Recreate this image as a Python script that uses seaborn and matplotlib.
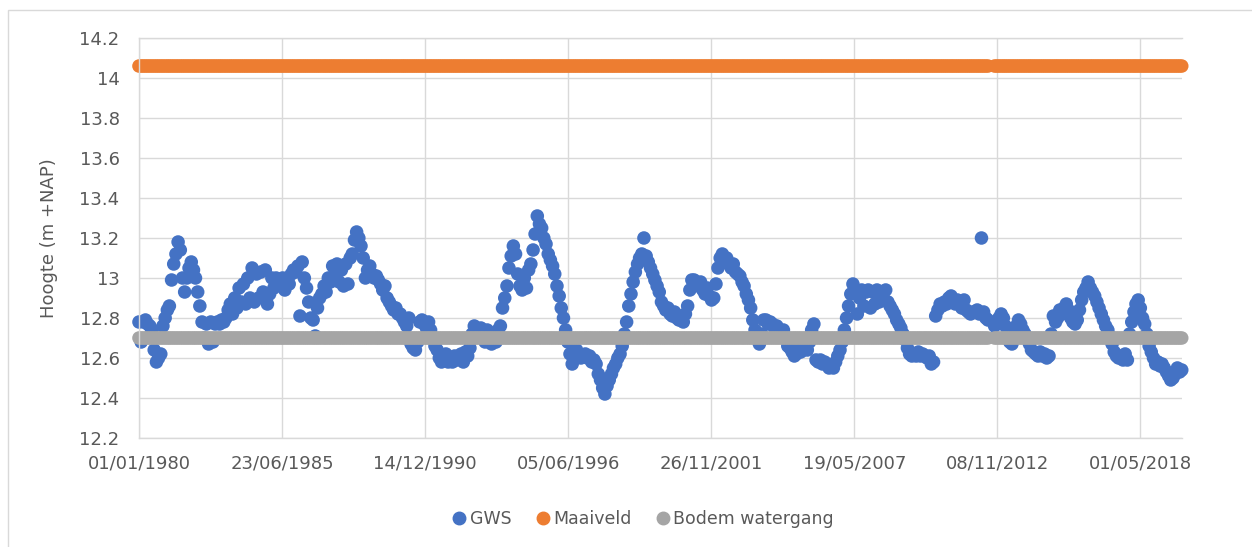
import numpy as np
import pandas as pd
import matplotlib
matplotlib.use("Agg")
import matplotlib.pyplot as plt
from matplotlib.lines import Line2D
from matplotlib.patches import Rectangle
import seaborn as sns

# monthly groundwater level (GWS), Jan..Dec per row
gws_1980s = [
    12.78, 12.68, 12.78, 12.79, 12.77, 12.76, 12.74, 12.64, 12.58, 12.60, 12.62, 12.76,
    12.80, 12.84, 12.86, 12.99, 13.07, 13.12, 13.18, 13.14, 13.00, 12.93, 13.00, 13.05,
    13.08, 13.04, 13.00, 12.93, 12.86, 12.78, 12.70, 12.77, 12.67, 12.78, 12.68, 12.77,
    12.78, 12.77, 12.79, 12.78, 12.80, 12.84, 12.87, 12.82, 12.90, 12.85, 12.95, 12.88,
    12.97, 12.87, 13.00, 12.90, 13.05, 12.88, 13.02, 12.90, 13.03, 12.93, 13.04, 12.87,
    12.92, 13.00, 12.95, 13.00, 12.97, 12.99, 13.00, 12.94, 13.00, 12.97, 13.02, 13.04,
    13.03, 13.06, 12.81, 13.08, 13.00, 12.95, 12.88, 12.80, 12.79, 12.71, 12.85, 12.90,
    12.92, 12.96, 12.93, 13.00, 12.98, 13.06, 13.02, 13.07, 12.98, 13.04, 12.96, 13.07,
    12.97, 13.10, 13.12, 13.19, 13.23, 13.20, 13.16, 13.10, 13.00, 13.04, 13.06, 13.02,
    13.00, 13.01, 12.99, 12.97, 12.94, 12.96, 12.90, 12.88, 12.86, 12.84, 12.85, 12.82,
]
gws_1990s = [
    12.82, 12.80, 12.78, 12.76, 12.80, 12.67, 12.65, 12.64, 12.68, 12.78, 12.79, 12.77,
    12.75, 12.78, 12.74, 12.70, 12.66, 12.64, 12.60, 12.58, 12.59, 12.62, 12.58, 12.60,
    12.58, 12.61, 12.59, 12.60, 12.62, 12.58, 12.63, 12.61, 12.65, 12.72, 12.76, 12.74,
    12.73, 12.75, 12.72, 12.68, 12.74, 12.70, 12.67, 12.72, 12.68, 12.74, 12.76, 12.85,
    12.90, 12.96, 13.05, 13.11, 13.16, 13.12, 13.02, 12.96, 12.94, 13.00, 12.95, 13.04,
    13.07, 13.14, 13.22, 13.31, 13.27, 13.25, 13.20, 13.17, 13.12, 13.09, 13.06, 13.02,
    12.96, 12.91, 12.85, 12.80, 12.74, 12.68, 12.62, 12.57, 12.60, 12.64, 12.62, 12.60,
    12.61, 12.62, 12.60, 12.61, 12.58, 12.59, 12.57, 12.52, 12.49, 12.45, 12.42, 12.46,
    12.49, 12.52, 12.55, 12.57, 12.60, 12.62, 12.66, 12.72, 12.78, 12.86, 12.92, 12.98,
    13.03, 13.07, 13.10, 13.12, 13.20, 13.11, 13.08, 13.05, 13.02, 12.99, 12.96, 12.93,
]
gws_2000s = [
    12.88, 12.86, 12.84, 12.85, 12.82, 12.81, 12.83, 12.80, 12.79, 12.81, 12.78, 12.82,
    12.86, 12.94, 12.99, 12.99, 12.97, 12.96, 12.98, 12.94, 12.92, 12.95, 12.91, 12.89,
    12.90, 12.97, 13.05, 13.10, 13.12, 13.08, 13.10, 13.07, 13.05, 13.07, 13.03, 13.02,
    13.01, 12.98, 12.96, 12.92, 12.89, 12.85, 12.79, 12.74, 12.70, 12.67, 12.72, 12.79,
    12.79, 12.77, 12.78, 12.77, 12.75, 12.76, 12.74, 12.72, 12.74, 12.70, 12.66, 12.65,
    12.63, 12.61, 12.62, 12.64, 12.63, 12.64, 12.65, 12.64, 12.68, 12.74, 12.77, 12.59,
    12.58, 12.59, 12.57, 12.58, 12.57, 12.55, 12.56, 12.55, 12.58, 12.61, 12.64, 12.68,
    12.74, 12.80, 12.86, 12.92, 12.97, 12.94, 12.82, 12.90, 12.94, 12.86, 12.93, 12.94,
    12.85, 12.93, 12.87, 12.94, 12.88, 12.93, 12.90, 12.94, 12.88, 12.86, 12.84, 12.82,
    12.79, 12.77, 12.75, 12.72, 12.69, 12.65, 12.62, 12.61, 12.62, 12.61, 12.63, 12.61,
]
gws_2010s = [
    12.62, 12.61, 12.60, 12.61, 12.57, 12.58, 12.81, 12.84, 12.87, 12.86, 12.88, 12.87,
    12.90, 12.91, 12.89, 12.87, 12.89, 12.88, 12.85, 12.89, 12.84, 12.83, 12.82, 12.83,
    12.83, 12.84, 12.82, 13.20, 12.83, 12.80, 12.79, np.nan, np.nan, 12.76, 12.78, 12.80,
    12.82, 12.80, 12.76, 12.72, 12.68, 12.67, 12.71, 12.76, 12.79, 12.77, 12.74, 12.72,
    12.70, 12.67, 12.64, 12.63, 12.62, 12.61, 12.63, 12.61, 12.62, 12.60, 12.61, 12.72,
    12.81, 12.78, 12.80, 12.84, 12.82, 12.85, 12.87, 12.84, 12.80, 12.78, 12.77, 12.79,
    12.84, 12.89, 12.93, 12.95, 12.98, 12.95, 12.93, 12.91, 12.88, 12.85, 12.82, 12.79,
    12.76, 12.74, 12.71, 12.67, 12.63, 12.61, 12.60, 12.61, 12.59, 12.62, 12.59, 12.72,
    12.78, 12.83, 12.87, 12.89, 12.85, 12.80, 12.77, 12.72, 12.66, 12.63, 12.60, 12.57,
    12.58, 12.56, 12.57, 12.55, 12.53, 12.51, 12.49, 12.50, 12.52, 12.55, 12.53, 12.54,
]
first_month = "1980-01-01"
maaiveld_level = 14.06
bodem_level = 12.70

series_names = ["GWS", "Maaiveld", "Bodem watergang"]
series_colors = ["#4472C4", "#ED7D31", "#A5A5A5"]
x_tick_labels = ["01/01/1980", "23/06/1985", "14/12/1990", "05/06/1996",
                 "26/11/2001", "19/05/2007", "08/11/2012", "01/05/2018"]
y_ticks = [12.2, 12.4, 12.6, 12.8, 13.0, 13.2, 13.4, 13.6, 13.8, 14.0, 14.2]

gws = np.array(gws_1980s + gws_1990s + gws_2000s + gws_2010s, dtype=float)
dates = pd.date_range(first_month, periods=len(gws), freq="MS")
ok = ~np.isnan(gws)
d = dates[ok]

df = pd.concat([
    pd.DataFrame({"date": d, "value": gws[ok], "series": series_names[0]}),
    pd.DataFrame({"date": d, "value": maaiveld_level, "series": series_names[1]}),
    pd.DataFrame({"date": d, "value": bodem_level, "series": series_names[2]}),
], ignore_index=True)

sns.set_theme(style="white")
plt.rcParams["font.family"] = ["DejaVu Sans"]
text_color = "#595959"
grid_color = "#D9D9D9"

fig, ax = plt.subplots(figsize=(12.52, 5.47), dpi=100)
fig.subplots_adjust(left=0.111, right=0.944, top=0.9305, bottom=0.1993)

sns.scatterplot(data=df, x="date", y="value", hue="series",
                palette=dict(zip(series_names, series_colors)),
                s=95, linewidth=0, alpha=1, ax=ax, legend=False, clip_on=False)

ax.set_ylim(12.2, 14.2)
ax.set_yticks(y_ticks)
ax.set_yticklabels([f"{v:g}" for v in y_ticks])
tick_dates = pd.to_datetime(x_tick_labels, format="%d/%m/%Y")
ax.set_xticks(tick_dates)
ax.set_xticklabels(x_tick_labels)
ax.set_xlim(pd.Timestamp("1980-01-01"), pd.Timestamp("2019-12-03"))

ax.grid(True, color=grid_color, lw=1)
ax.set_axisbelow(True)
for side in ["top", "left", "bottom"]:
    ax.spines[side].set_color(grid_color)
    ax.spines[side].set_linewidth(1)
ax.spines["right"].set_visible(False)
ax.tick_params(length=0, labelsize=13, labelcolor=text_color)
ax.tick_params(axis="y", pad=14)
ax.tick_params(axis="x", pad=12)

ax.set_xlabel("")
ax.set_ylabel("Hoogte (m +NAP)", fontsize=13, color=text_color)
ax.yaxis.set_label_coords(-0.0777, 0.5)

handles = [Line2D([], [], marker="o", ls="", color=c, markersize=9)
           for c in series_colors]
fig.legend(handles, series_names, loc="center", bbox_to_anchor=(0.513, 0.051),
           ncol=3, frameon=False, fontsize=12.5, labelcolor=text_color,
           handletextpad=0.1, columnspacing=1.3, handlelength=1.0)

fig.patches.append(Rectangle((8 / 1252, -0.05), 1.0, 1.0317, transform=fig.transFigure,
                             fill=False, edgecolor=grid_color, lw=1))

fig.savefig("out.png", dpi=100)
